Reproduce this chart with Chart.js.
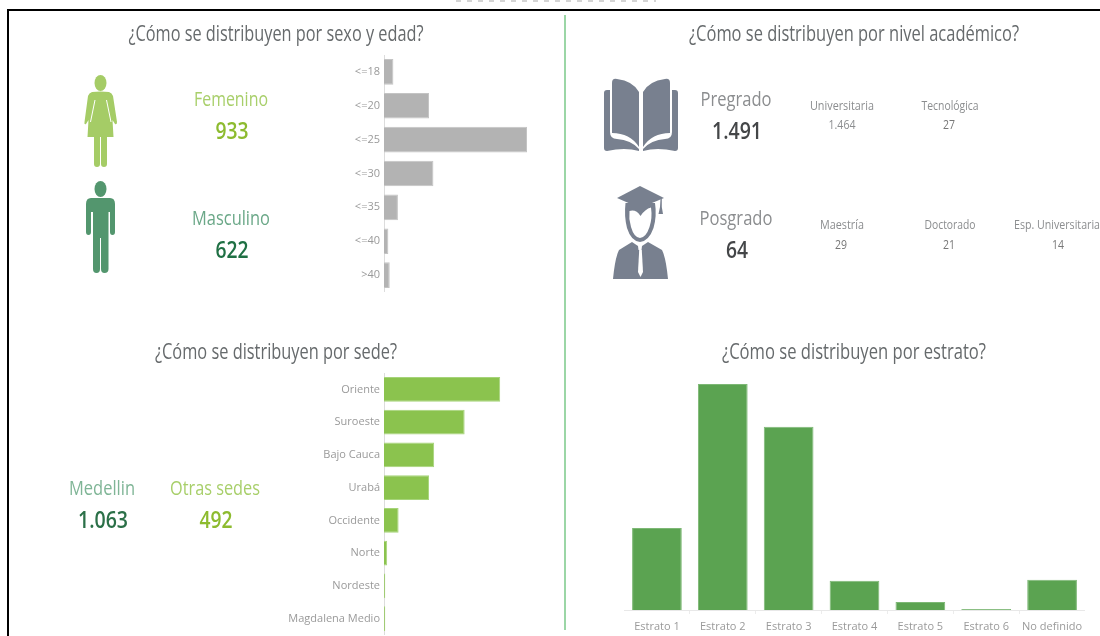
<!DOCTYPE html>
<html lang="es">
<head>
<meta charset="utf-8">
<script src="https://cdn.jsdelivr.net/npm/chart.js@4"></script>
<style>
html,body{margin:0;padding:0;background:#fff;width:1100px;height:636px;overflow:hidden}
#page{position:absolute;inset:0;filter:blur(.45px)}
.t{position:absolute;white-space:nowrap;font-family:"Open Sans",sans-serif;line-height:1;transform-origin:center center}
canvas{position:absolute;display:block}
svg{position:absolute;left:0;top:0}
.rule{position:absolute;background:#000}
</style>
</head>
<body>
<div id="page">
  <div style="position:absolute;left:456px;top:0;width:200px;height:2px;background:repeating-linear-gradient(90deg,#d4d4d4 0 5px,#fff 5px 11px)"></div>
  <svg width="1100" height="636" viewBox="0 0 1100 636">
    <!-- Femenino -->
    <g fill="#a5cc66">
      <ellipse cx="100.5" cy="83" rx="6" ry="8"/>
      <path d="M92 92Q100.500 91 109 92Q112 93 113 96L117 122Q117 125 115 124L112.500 120L113.500 137L107 137L107 164Q107 167 104 167Q101 167 101 164L101 137L100 137L100 164Q100 167 97 167Q94 167 94 164L94 137L87.500 137L88.500 120L86 124Q84 125 84.500 122L88 96Q89 93 92 92Z"/>
      <path d="M95 100L90.500 122M106.500 100L111 122" stroke="#fff" stroke-width="1" fill="none"/>
    </g>
    <!-- Masculino -->
    <g fill="#53966e">
      <ellipse cx="100.500" cy="189" rx="6" ry="8"/>
      <path d="M91 198L110 198Q115 198 115 204L115 232Q115 235 112.500 235Q110 235 110 232L110 212L108.500 212L108.500 269Q108.500 273 104.500 273Q101 273 101 269L101 238L100 238L100 269Q100 273 96.500 273Q93 273 93 269L93 212L91 212L91 232Q91 235 88.500 235Q86 235 86 232L86 204Q86 198 91 198Z"/>
    </g>
    <!-- Libro -->
    <g fill="#78808f">
      <path d="M612 83Q612 78 617 79Q633 81 639 92L639 147Q630 133 612 133Z"/>
      <path d="M670 83Q670 78 665 79Q649 81 643 92L643 147Q652 133 670 133Z"/>
      <path d="M604 93Q604 90 607 90L610 90L610 132Q610 139 617 139Q631 140 639 149L639 151Q625 147 607 151Q604 151 604 148Z"/>
      <path d="M678 93Q678 90 675 90L672 90L672 132Q672 139 665 139Q651 140 643 149L643 151Q657 147 675 151Q678 151 678 148Z"/>
    </g>
    <!-- Graduado -->
    <g fill="#78808f">
      <path d="M640 186L664 198L640 208L617 198Z"/>
      <path d="M660.500 199L661.800 199L661.800 207L663 214L658.500 214L660 207Z"/>
      <path fill-rule="evenodd" d="M625.500 203L655 203Q657 216 653.500 228Q649 241 640 242Q631 241 627 228Q624 216 625.500 203ZM629.500 211Q636 209 640.500 216Q645 209 651 207.500Q652.500 218 649.500 227Q646 237.500 640 238Q634 237.500 631 227Q628.500 219 629.500 211Z"/>
      <path d="M632 242L638 246L638.500 250L641.500 250L642 246L648 242L662 250Q666 258 668 279L613 279Q615 258 619 250Z"/>
    </g>
    <path d="M639.200 250L641.800 250L643 272L640.500 277L638 272Z" fill="#fff"/>
  </svg>
  <canvas id="cEdad" style="left:280px;top:55px" width="278" height="237"></canvas>
  <canvas id="cSede" style="left:280px;top:373px" width="231" height="262"></canvas>
  <canvas id="cEstrato" style="left:624px;top:376px" width="461" height="260"></canvas>
  <div style="position:absolute;left:564px;top:15px;width:2px;height:615px;background:#9bd6a6"></div>
</div>
<div class="rule" style="left:7px;top:9px;width:1093px;height:1.500px"></div>
<div class="rule" style="left:7px;top:9px;width:2px;height:627px"></div>

<script>
const edadLabels = ["<=18","<=20","<=25","<=30","<=35","<=40",">40"];
const edadValues = [54,259,822,284,80,25,33];
const sedeLabels = ["Oriente","Suroeste","Bajo Cauca","Urabá","Occidente","Norte","Nordeste","Magdalena Medio"];
const sedeValues = [183,127,79,71,23,5,2,2];
const estratoLabels = ["Estrato 1","Estrato 2","Estrato 3","Estrato 4","Estrato 5","Estrato 6","No definido"];
const estratoValues = [228,628,509,81,22,3,84];

const TICK = "#9a9a9a", FONT = "Open Sans";
const DG = "#666a6c", LGREEN = "#a8cf6a", MGREEN = "#6ba888", GREY = "#8b8d8f";

// [texto, cx, cy, tamaño, color, ancho, peso]
const texts = [
 ["¿Cómo se distribuyen por sexo y edad?",275.5,33,21,DG,295,400],
 ["¿Cómo se distribuyen por nivel académico?",854,33,21,DG,330,400],
 ["¿Cómo se distribuyen por sede?",276,351,21,DG,242,400],
 ["¿Cómo se distribuyen por estrato?",854,351,21,DG,264,400],
 ["Femenino",231,99,20,LGREEN,74,400],["933",231.5,130,24,"#8dbb2f",33,600],
 ["Masculino",231,218,20,MGREEN,78,400],["622",231.5,249,24,"#1f7044",33,600],
 ["Pregrado",735.5,99,20,GREY,71,400],["1.491",737,130,24,"#444648",50,600],
 ["Posgrado",735.5,218,20,GREY,73,400],["64",737,249,24,"#444648",22,600],
 ["Universitaria",842,105,13,GREY,64,400],["1.464",842,124.5,12,GREY,27,400],
 ["Tecnológica",949.5,105,13,GREY,57,400],["27",949,124.5,12,"#777",12,400],
 ["Maestría",842,224,13,GREY,44,400],["29",841,244.5,12,"#777",12,400],
 ["Doctorado",949.5,224,13,GREY,51,400],["21",949,244.5,12,"#777",12,400],
 ["Esp. Universitaria",1057,224,13,GREY,86,400],["14",1058,244.5,12,"#777",12,400],
 ["Medellin",102,488,20,"#7fb596",66,400],["1.063",103,519,24,"#2b7048",50,600],
 ["Otras sedes",215,488,20,LGREEN,90,400],["492",216,519,24,"#8dbb2f",33,600]
];
const page = document.getElementById("page");
const mctx = document.createElement("canvas").getContext("2d");
texts.forEach(([s,cx,cy,size,color,w,weight])=>{
  const el = document.createElement("div");
  el.className = "t"; el.textContent = s;
  el.style.fontSize = size+"px"; el.style.color = color; el.style.fontWeight = weight;
  mctx.font = weight+" "+size+'px "Open Sans"';
  const k = w/mctx.measureText(s).width;
  el.style.left = cx+"px"; el.style.top = cy+"px";
  el.style.transform = `translate(-50%,-50%) scaleX(${k})`;
  page.appendChild(el);
});

function hbar(id, labels, values, fill, edge, max, pct){
  new Chart(document.getElementById(id),{
    type:"bar",
    data:{labels,datasets:[{data:values,backgroundColor:fill,borderColor:edge,borderWidth:1,barPercentage:pct,categoryPercentage:1}]},
    options:{
      indexAxis:"y",responsive:false,animation:false,
      layout:{padding:0},
      plugins:{legend:{display:false},tooltip:{enabled:false},title:{display:false}},
      scales:{
        x:{display:false,min:0,max},
        y:{afterFit:s=>{s.width=104;s.paddingTop=0;s.paddingBottom=0},
           grid:{display:false,drawTicks:false},
           border:{display:true,color:"#dcdcdc",dash:[1,2]},
           ticks:{color:TICK,font:{family:FONT,size:11},padding:4}}
      }
    }
  });
}
hbar("cEdad",edadLabels,edadValues,"#b3b3b3","#c4c4c4",1000,.757);
hbar("cSede",sedeLabels,sedeValues,"#8bc34e","#a6d47a",200,.755);

new Chart(document.getElementById("cEstrato"),{
  type:"bar",
  data:{labels:estratoLabels,datasets:[{data:estratoValues,backgroundColor:"#5ba351",borderColor:"#7db875",borderWidth:1,barPercentage:.755,categoryPercentage:1}]},
  options:{
    responsive:false,animation:false,
    layout:{padding:0},
    plugins:{legend:{display:false},tooltip:{enabled:false}},
    scales:{
      y:{display:false,min:0,max:650},
      x:{afterFit:s=>{s.height=26;s.paddingLeft=0;s.paddingRight=0},
         grid:{display:true,drawOnChartArea:false,drawTicks:true,tickLength:4,offset:true,color:"#ececec"},
         border:{display:true,color:"#e8e8e8"},
         ticks:{color:TICK,font:{family:FONT,size:11},padding:6,maxRotation:0,autoSkip:false}}
    }
  }
});
</script>
</body>
</html>
